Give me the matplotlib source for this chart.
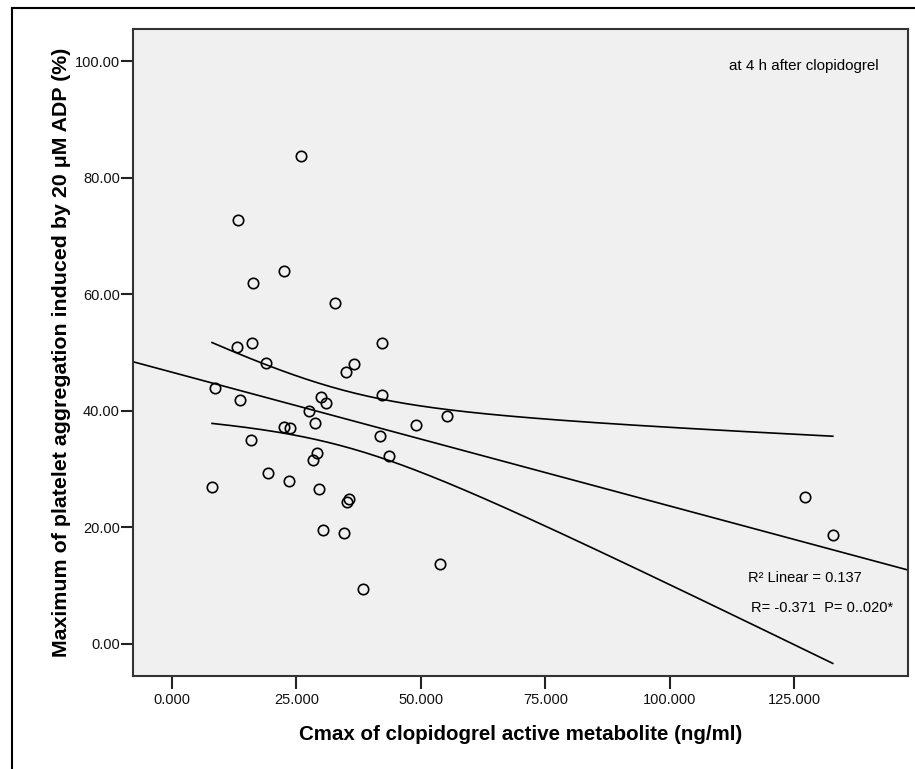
import numpy as np
import matplotlib
matplotlib.use("Agg")
import matplotlib.pyplot as plt
from matplotlib.lines import Line2D

plt.rcParams['font.family'] = ['Liberation Sans', 'DejaVu Sans']

# Cmax of clopidogrel active metabolite (ng/ml)
cmax = [25.96, 13.31, 22.6, 16.27, 32.73, 13.17, 16.18, 18.88, 42.23, 34.94,
        36.67, 8.63, 13.78, 30.04, 30.98, 27.63, 42.23, 28.71, 22.6, 23.69,
        15.92, 29.12, 28.43, 41.83, 43.7, 49.06, 55.28, 19.4, 23.61, 8.09,
        29.58, 35.54, 35.26, 30.38, 34.66, 53.94, 38.47, 127.1, 132.7]
# maximum platelet aggregation (%)
aggregation = [83.67, 72.74, 63.93, 61.87, 58.54, 50.94, 51.62, 48.24, 51.62, 46.59,
               47.97, 43.90, 41.84, 42.30, 41.32, 40.0, 42.75, 37.94, 37.25, 37.03,
               34.97, 32.69, 31.54, 35.71, 32.28, 37.54, 39.14, 29.30, 27.93, 26.85,
               26.56, 24.79, 24.33, 19.52, 19.06, 13.63, 9.34, 25.18, 18.66]

x_ticks = [0, 25, 50, 75, 100, 125]
y_ticks = [0, 20, 40, 60, 80, 100]

x = np.array(cmax)
y = np.array(aggregation)
n = len(x)

# ajuste lineal y banda de confianza (95 %) de la media
b1, b0 = np.polyfit(x, y, 1)
resid = y - (b0 + b1 * x)
s = np.sqrt(np.sum(resid ** 2) / (n - 2))
t_crit = 2.026  # t(0.975, 37)
xb = np.linspace(x.min(), x.max(), 200)
se = s * np.sqrt(1 / n + (xb - x.mean()) ** 2 / np.sum((x - x.mean()) ** 2))
fit_b = b0 + b1 * xb

fig = plt.figure(figsize=(9.15, 7.69), dpi=100)
ax = fig.add_axes([0.14536, 0.12094, 0.84699, 0.84174])
ax.set_facecolor('#f0f0f0')

xlim = (-7.77, 147.8)
ax.set_xlim(xlim)
ax.set_ylim(-5.55, 105.55)

xl = np.array(xlim)
ax.plot(xl, b0 + b1 * xl, color='black', lw=1.2)
ax.plot(xb, fit_b + t_crit * se, color='black', lw=1.2)
ax.plot(xb, fit_b - t_crit * se, color='black', lw=1.2)

ax.plot(x, y, 'o', ms=7.5, mfc='none', mec='black', mew=1.2)

ax.set_xticks(x_ticks)
ax.set_yticks(y_ticks)
ax.set_xticklabels([f'{v:.3f}' for v in x_ticks])
ax.set_yticklabels([f'{v:.2f}' for v in y_ticks])
ax.tick_params(direction='out', length=9, width=1.5, labelsize=10.5,
               colors='#222222', labelcolor='#111111')
ax.tick_params(axis='x', pad=3)
ax.tick_params(axis='y', pad=0.5)

for sp in ax.spines.values():
    sp.set_linewidth(1.5)
    sp.set_color('#333333')

ax.set_xlabel('Cmax of clopidogrel active metabolite (ng/ml)',
              fontsize=14.8, fontweight='bold', labelpad=13)
ax.set_ylabel('Maximum of platelet aggregation induced by 20 μM ADP (%)',
              fontsize=15.4, fontweight='bold', labelpad=3)

ax.text(0.9626, 0.9424, 'at 4 h after clopidogrel', transform=ax.transAxes,
        ha='right', va='center', fontsize=10.9)
ax.text(0.794, 0.151, 'R² Linear = 0.137', transform=ax.transAxes,
        ha='left', va='center', fontsize=10.5)
ax.text(0.798, 0.105, 'R= -0.371  P= 0..020*', transform=ax.transAxes,
        ha='left', va='center', fontsize=10.5)

# marco exterior
fig.add_artist(Line2D([12 / 915, 12 / 915], [0, 1 - 8 / 769],
                      color='black', lw=1.5, transform=fig.transFigure))
fig.add_artist(Line2D([12 / 915, 1], [1 - 8 / 769, 1 - 8 / 769],
                      color='black', lw=1.5, transform=fig.transFigure))

fig.savefig('out.png', dpi=100)
